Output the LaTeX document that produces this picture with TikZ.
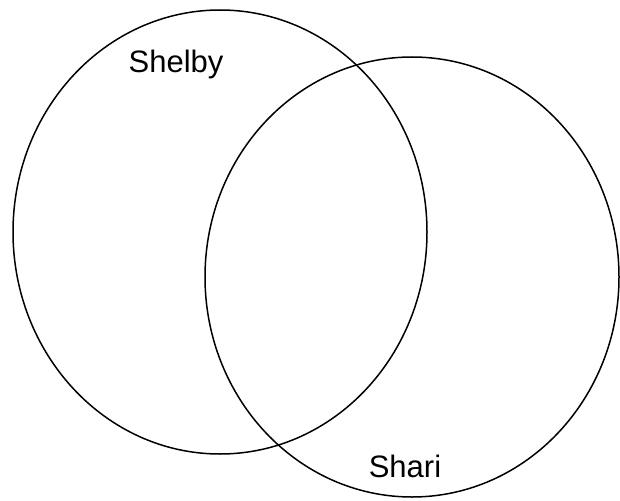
\documentclass[tikz,border=0pt]{standalone}
\usepackage{fontspec}
\setmainfont{Liberation Sans}
\usepackage{tikz}
\usetikzlibrary{positioning}

\begin{document}
\begin{tikzpicture}[
    x=1pt, y=-1pt,
    setline/.style={draw=black, line width=1.5pt},
    setlabel/.style={anchor=base, inner sep=0pt, font=\fontsize{31}{37}\selectfont},
]
    \useasboundingbox (0,0) rectangle (620,500);

    % The two sets
    \draw[setline] (220,232) ellipse [x radius=207, y radius=222];
    \draw[setline] (412,277) ellipse [x radius=207, y radius=220];

    % Set names
    \node[setlabel] (shelby) at (176,73) {Shelby};
    \node[setlabel] (shari) at (405,477) {Shari};
\end{tikzpicture}
\end{document}
